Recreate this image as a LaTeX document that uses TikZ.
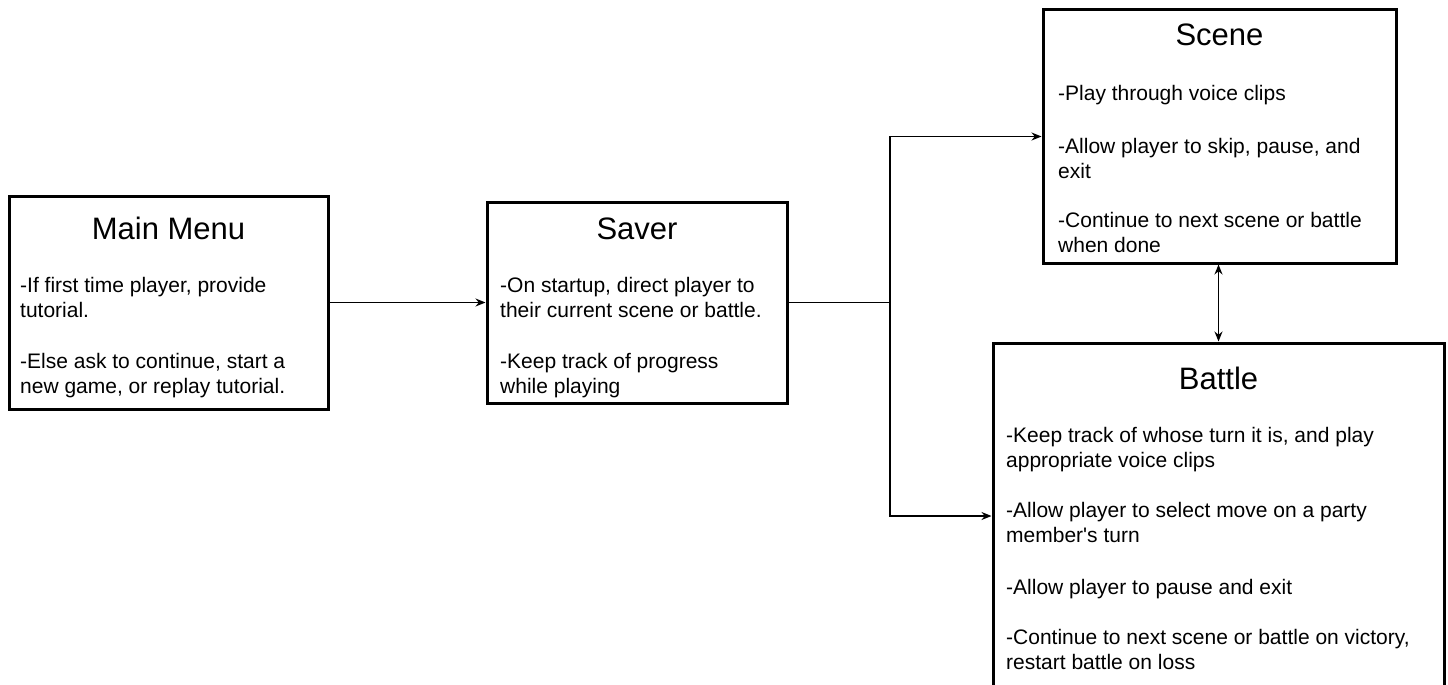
\documentclass[tikz,border=0pt]{standalone}
\usepackage{fontspec}
\setmainfont{Liberation Sans}
\usetikzlibrary{arrows.meta,positioning,calc}
\tikzset{
  box/.style={draw, line width=3pt, rectangle, inner sep=0pt},
  head/.style={font=\fontsize{31}{36}\selectfont, anchor=base, inner sep=0pt},
  body/.style={font=\fontsize{21}{25}\selectfont, align=left, anchor=base west, inner sep=0pt},
  link/.style={line width=1.3pt, -{Stealth[length=10pt,width=8pt]}},
}

\begin{document}
\begin{tikzpicture}[x=1pt,y=-1pt]
\clip (0,0) rectangle (1448,685);

\node[box, minimum width=319pt, minimum height=213pt] (menu) at (168.5,302.5) {};
\node[box, minimum width=300pt, minimum height=201pt] (saver) at (637,302.5) {};
\node[box, minimum width=353pt, minimum height=253pt] (scene) at (1219.5,136.5) {};
\node[box, minimum width=451pt, minimum height=346pt] (battle) at (1218.5,516) {};

\node[head] (menu-title) at (168.5,239) {Main Menu};
\node[head] (saver-title) at (637,239) {Saver};
\node[head] (scene-title) at (1219.5,46) {Scene};
\node[head] (battle-title) at (1218.5,389) {Battle};

% body texts sit on the baseline of their last line
\node[body] (menu-text) at (20,393) {-If first time player, provide\\tutorial.\\[26pt]-Else ask to continue, start a\\new game, or replay tutorial.};
\node[body] (saver-text) at (500,393) {-On startup, direct player to\\their current scene or battle.\\[26pt]-Keep track of progress\\while playing};
\node[body] (scene-text) at (1058,252) {-Play through voice clips\\[28pt]-Allow player to skip, pause, and\\exit\\[24pt]-Continue to next scene or battle\\when done};
\node[body] (battle-text) at (1006,669) {-Keep track of whose turn it is, and play\\appropriate voice clips\\[25pt]-Allow player to select move on a party\\member\textquotesingle s turn\\[27pt]-Allow player to pause and exit\\[25pt]-Continue to next scene or battle on victory,\\restart battle on loss};

% connectors
\coordinate (split) at (890,302.5);
\draw[line width=1.3pt] (saver.east) -- (split);
\draw[link] (menu.east) -- (saver.west);
\draw[link] (split) |- (scene.west);
\draw[link] (split) |- (battle.west);
\draw[link, {Stealth[length=10pt,width=8pt]}-{Stealth[length=10pt,width=8pt]}] (battle.north) -- (battle.north |- scene.south);
\end{tikzpicture}
\end{document}
